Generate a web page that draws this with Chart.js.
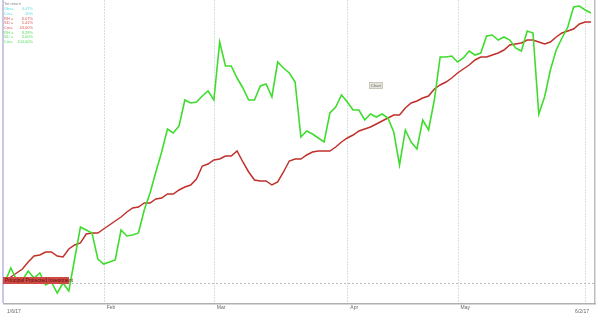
<!DOCTYPE html>
<html><head><meta charset="utf-8">
<script src="https://cdn.jsdelivr.net/npm/chart.js@4"></script>
<style>html,body{margin:0;padding:0;background:#fff;}canvas{display:block;}</style>
</head><body>
<canvas id="c" width="600" height="315"></canvas>
<script>
// ---- data ----
const startDate = '2017-01-06';
const endDate = '2017-06-02';
const holidays = ['2017-01-16','2017-02-20','2017-04-14','2017-05-29'];
const monthTickLabels = ['Feb','Mar','Apr','May'];
const strategyValues = [0.4,6.0,1.2,1.2,4.8,2.0,4.0,-0.8,0.4,-4.0,
 0.0,-3.2,9.6,22.4,21.2,20.0,9.6,7.6,8.4,9.2,
 21.2,18.8,19.2,20.0,29.2,36.0,44.4,52.4,61.6,60.0,
 62.8,73.2,72.0,72.4,74.8,76.8,73.2,96.4,86.8,86.8,
 82.0,78.0,73.2,73.2,78.8,79.6,74.4,88.4,86.0,84.0,
 80.4,58.4,60.8,59.6,58.0,56.4,68.0,70.4,75.2,72.4,
 69.2,69.2,65.2,67.6,66.4,67.6,66.0,60.4,47.2,61.2,
 56.4,53.6,65.2,61.2,73.2,90.4,90.4,90.8,88.4,90.0,
 92.8,91.2,92.0,98.8,99.2,97.2,98.4,97.2,94.0,92.8,
 100.8,100.0,67.6,74.4,85.2,93.2,98.0,102.4,110.4,110.8,
 109.2,108.0];
const benchmarkValues = [0.4,2.4,4.0,5.6,8.4,10.8,11.2,12.4,12.4,10.8,
 10.4,13.6,15.2,16.0,19.6,20.0,20.0,21.6,23.2,24.8,
 26.4,28.4,30.0,30.4,32.0,32.0,33.6,34.0,35.6,35.6,
 37.2,38.4,39.2,41.6,46.8,47.6,49.2,49.6,50.8,50.8,
 52.8,48.4,44.4,41.2,40.8,40.8,39.2,40.4,44.4,48.8,
 49.6,49.6,51.2,52.4,52.8,52.8,52.8,54.4,56.4,58.0,
 59.2,60.8,61.6,62.4,63.6,64.8,66.0,67.2,67.2,70.0,
 72.0,72.8,74.0,74.8,77.6,79.2,80.4,82.0,84.0,85.6,
 87.2,89.2,90.4,90.4,91.2,92.0,93.2,95.2,95.6,96.0,
 97.2,97.2,96.4,95.6,96.4,98.4,100.0,100.8,101.6,103.6,
 104.4,104.4];
const statTitle = 'Tot return';
const statLabels = ['Obs=','Cm=','RH =','SD =','Cm=','RH =','SD =','Cm='];
const statValues = ['6.47%','.10%','6.07%','5.41%','43.00%','8.28%','3.00%','100.00%'];
const statGroups = [0,0,1,1,1,2,2,2];
const baselineLabel = 'Principal Protected Investment';
const chartTag = 'Chart';

// ---- categories: trading days ----
function fmt(d){return (d.getMonth()+1)+'/'+d.getDate()+'/'+String(d.getFullYear()).slice(2);}
function iso(d){const m=String(d.getMonth()+1).padStart(2,'0'),dd=String(d.getDate()).padStart(2,'0');return d.getFullYear()+'-'+m+'-'+dd;}
const categories=[]; const monthOf=[];
{
  const s=new Date(startDate+'T00:00:00'), e=new Date(endDate+'T00:00:00');
  for(let d=new Date(s); d<=e; d.setDate(d.getDate()+1)){
    const wd=d.getDay();
    if(wd===0||wd===6||holidays.includes(iso(d))) continue;
    categories.push(fmt(d)); monthOf.push(d.getMonth());
  }
}
const monthStarts=[];
for(let i=1;i<monthOf.length;i++){ if(monthOf[i]!==monthOf[i-1]) monthStarts.push(i); }

const groupColors=['#5cdce2','#e05a5a','#5ddc5d'];
const FONT='"Liberation Sans", Arial, sans-serif';

const decor={
  id:'decor',
  beforeDatasetsDraw(chart){
    const {ctx,chartArea:a,scales:{x,y}}=chart;
    ctx.save();
    // vertical month grid
    ctx.strokeStyle='#cfe2dc'; ctx.lineWidth=1; ctx.setLineDash([2,1]);
    monthStarts.forEach(i=>{const px=Math.round(x.getPixelForValue(i))+0.5;ctx.beginPath();ctx.moveTo(px,0);ctx.lineTo(px,a.bottom);ctx.stroke();});
    // baseline
    ctx.strokeStyle='#bcbcbc'; ctx.setLineDash([2,2]);
    const by=Math.round(y.getPixelForValue(0))+0.5;
    ctx.beginPath();ctx.moveTo(4,by);ctx.lineTo(594,by);ctx.stroke();
    ctx.setLineDash([]);
    // frame
    ctx.fillStyle='#c9c6e6'; ctx.fillRect(2,0,2,a.bottom);
    ctx.fillStyle='#b0b0b0'; ctx.fillRect(3,a.bottom,593,1.5);
    ctx.fillStyle='#bdbdbd'; ctx.fillRect(594,0,1.5,a.bottom);
    ctx.restore();
  },
  afterDatasetsDraw(chart){
    const {ctx,chartArea:a,scales:{x,y}}=chart;
    ctx.save();
    // baseline label
    const by=y.getPixelForValue(0);
    ctx.fillStyle='#d04a44'; ctx.fillRect(3,by-6,66,7);
    ctx.fillStyle='#5a1010'; ctx.font='5px '+FONT; ctx.textBaseline='middle'; ctx.textAlign='left';
    ctx.fillText(baselineLabel,5,by-2.5);
    // x labels
    ctx.fillStyle='#666'; ctx.font='5px '+FONT;
    monthStarts.forEach((i,k)=>{ctx.fillText(monthTickLabels[k]||'',x.getPixelForValue(i)+3,a.bottom+5);});
    ctx.fillText(categories[0],x.getPixelForValue(0)+2,a.bottom+9);
    ctx.textAlign='right';
    ctx.fillText(categories[categories.length-1],x.getPixelForValue(categories.length-1)-2,a.bottom+9);
    // stats block
    ctx.textAlign='left'; ctx.font='4px '+FONT;
    ctx.fillStyle='#888'; ctx.fillText(statTitle,4,4);
    statLabels.forEach((l,k)=>{
      const yy=9+k*4.7;
      ctx.fillStyle=groupColors[statGroups[k]];
      ctx.textAlign='left'; ctx.fillText(l,4,yy);
      ctx.textAlign='right'; ctx.fillText(statValues[k],33,yy);
    });
    // chart tag
    ctx.fillStyle='#e4e4dc'; ctx.fillRect(369,82,14,7);
    ctx.strokeStyle='#b4b4aa'; ctx.lineWidth=0.6; ctx.strokeRect(369.5,82.5,13,6);
    ctx.fillStyle='#666'; ctx.textAlign='center'; ctx.font='4px '+FONT;
    ctx.fillText(chartTag,376,85.7);
    ctx.restore();
  }
};

new Chart(document.getElementById('c'),{
  type:'line',
  data:{labels:categories,datasets:[
    {label:'Strategy',data:strategyValues,borderColor:'#3fdc2e',borderWidth:1.6,pointRadius:0,tension:0,fill:false},
    {label:'Benchmark',data:benchmarkValues,borderColor:'#c0302a',borderWidth:1.5,pointRadius:0,tension:0,fill:false}
  ]},
  options:{
    responsive:false,animation:false,devicePixelRatio:1,
    layout:{padding:{left:5,right:9,top:3,bottom:12}},
    plugins:{legend:{display:false},tooltip:{enabled:false}},
    scales:{
      x:{display:false,offset:false},
      y:{display:false,min:-8,max:112}
    }
  },
  plugins:[decor]
});
</script>
</body></html>
